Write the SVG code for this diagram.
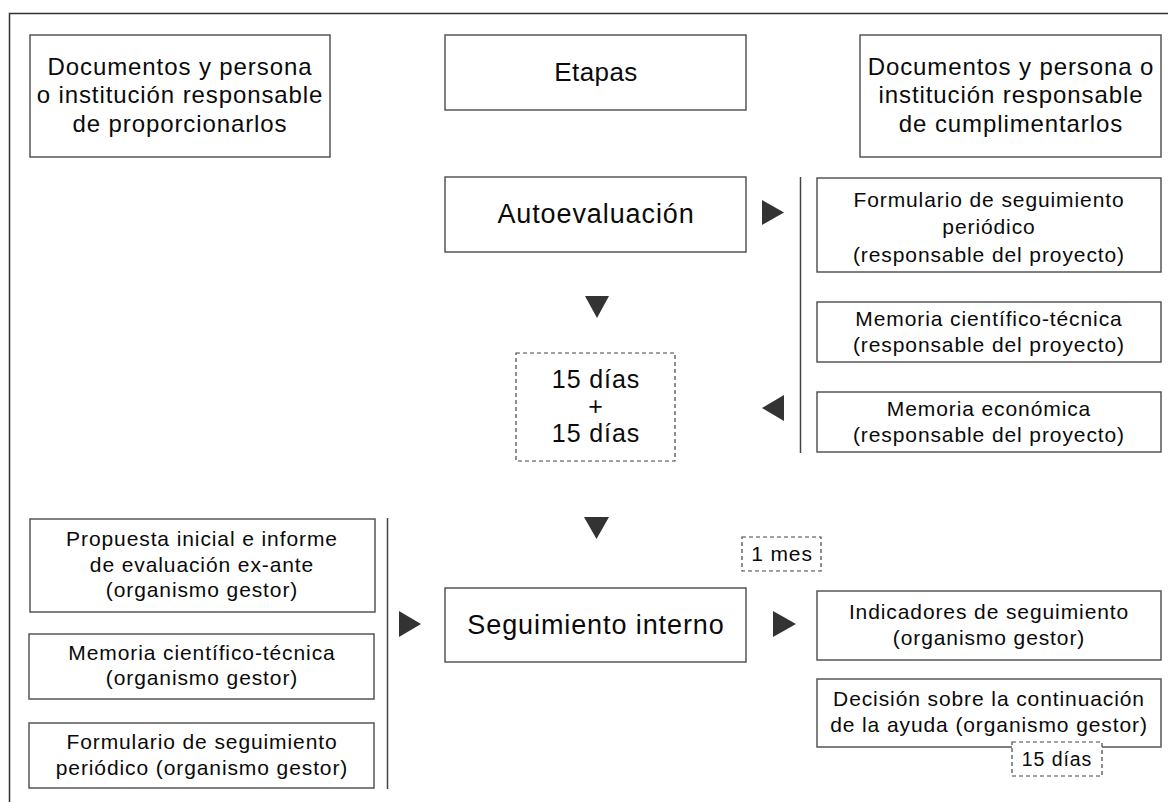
<svg xmlns="http://www.w3.org/2000/svg" width="1168" height="802" viewBox="0 0 1168 802">
<style>
text{font-family:"Liberation Sans",Arial,sans-serif;fill:#0a0a0a;text-anchor:middle;letter-spacing:0.9px}
.box{fill:#fff;stroke:#555;stroke-width:1.5}
.dash{fill:#fff;stroke:#444;stroke-width:1.2;stroke-dasharray:4 3}
.big{font-size:27px}
.hdr{font-size:24px}
.sm{font-size:21px}
.mid{font-size:25px}
.arr{fill:#333}
.sep{stroke:#444;stroke-width:1.5}
</style>
<rect width="1168" height="802" fill="#fff"/>
<path d="M9.5 802 V13.5 H1168" fill="none" stroke="#333" stroke-width="1.5"/>

<g id="hdr-left"><rect class="box" x="30" y="35" width="300" height="122"/>
<text class="hdr" x="180" y="74.5">Documentos y persona</text>
<text class="hdr" x="180" y="103">o institución responsable</text>
<text class="hdr" x="180" y="131.5">de proporcionarlos</text></g>

<g id="hdr-mid"><rect class="box" x="445" y="35" width="301" height="75"/>
<text x="596" y="81" style="font-size:26px;letter-spacing:0.4px">Etapas</text></g>

<g id="hdr-right"><rect class="box" x="860" y="35" width="301" height="122"/>
<text class="hdr" x="1011" y="74.5">Documentos y persona o</text>
<text class="hdr" x="1011" y="103">institución responsable</text>
<text class="hdr" x="1011" y="131.5">de cumplimentarlos</text></g>

<g id="autoevaluacion"><rect class="box" x="445" y="177" width="301" height="75"/>
<text class="big" x="596" y="223">Autoevaluación</text></g>

<g id="plazo1"><rect class="dash" x="516" y="353" width="159" height="108"/>
<text class="mid" x="596" y="388">15 días</text>
<text class="mid" x="596" y="415">+</text>
<text class="mid" x="596" y="442">15 días</text></g>

<g id="r1"><rect class="box" x="817" y="178" width="344" height="94"/>
<text class="sm" x="989" y="206.5">Formulario de seguimiento</text>
<text class="sm" x="989" y="234">periódico</text>
<text class="sm" x="989" y="261.5">(responsable del proyecto)</text></g>

<g id="r2"><rect class="box" x="817" y="302" width="344" height="60"/>
<text class="sm" x="989" y="326">Memoria científico-técnica</text>
<text class="sm" x="989" y="352">(responsable del proyecto)</text></g>

<g id="r3"><rect class="box" x="817" y="392" width="344" height="60"/>
<text class="sm" x="989" y="415.5">Memoria económica</text>
<text class="sm" x="989" y="441.5">(responsable del proyecto)</text></g>

<g id="seguimiento"><rect class="box" x="445" y="588" width="301" height="74"/>
<text class="big" x="596" y="634">Seguimiento interno</text></g>

<g id="plazo2"><rect class="dash" x="742" y="537" width="79" height="34"/>
<text class="sm" x="782" y="561">1 mes</text></g>

<g id="l1"><rect class="box" x="30" y="519" width="345" height="93"/>
<text class="sm" x="202" y="545.5">Propuesta inicial e informe</text>
<text class="sm" x="202" y="571.5">de evaluación ex-ante</text>
<text class="sm" x="202" y="597">(organismo gestor)</text></g>

<g id="l2"><rect class="box" x="29" y="634" width="345" height="65"/>
<text class="sm" x="202" y="660">Memoria científico-técnica</text>
<text class="sm" x="202" y="685">(organismo gestor)</text></g>

<g id="l3"><rect class="box" x="29" y="723" width="345" height="65"/>
<text class="sm" x="202" y="749">Formulario de seguimiento</text>
<text class="sm" x="202" y="774.5">periódico (organismo gestor)</text></g>

<g id="r4"><rect class="box" x="817" y="591" width="344" height="69"/>
<text class="sm" x="989" y="619">Indicadores de seguimiento</text>
<text class="sm" x="989" y="645">(organismo gestor)</text></g>

<g id="r5"><rect class="box" x="817" y="679" width="344" height="68"/>
<text class="sm" x="989" y="706">Decisión sobre la continuación</text>
<text class="sm" x="989" y="732">de la ayuda (organismo gestor)</text></g>

<g id="plazo3"><rect class="dash" x="1012" y="742" width="90" height="34"/>
<text x="1057" y="766" style="font-size:19.5px">15 días</text></g>

<g id="connectors">
<line class="sep" x1="800.5" y1="177" x2="800.5" y2="453"/>
<line class="sep" x1="387.5" y1="518" x2="387.5" y2="789"/>
<polygon class="arr" points="762,200 784,212.5 762,225"/>
<polygon class="arr" points="784,395 762,408 784,421"/>
<polygon class="arr" points="585,296 609,296 597,318"/>
<polygon class="arr" points="584,517 609,517 596.5,539"/>
<polygon class="arr" points="399,611 421,624 399,637"/>
<polygon class="arr" points="773,611 796,624 773,637"/>
</g>
</svg>
